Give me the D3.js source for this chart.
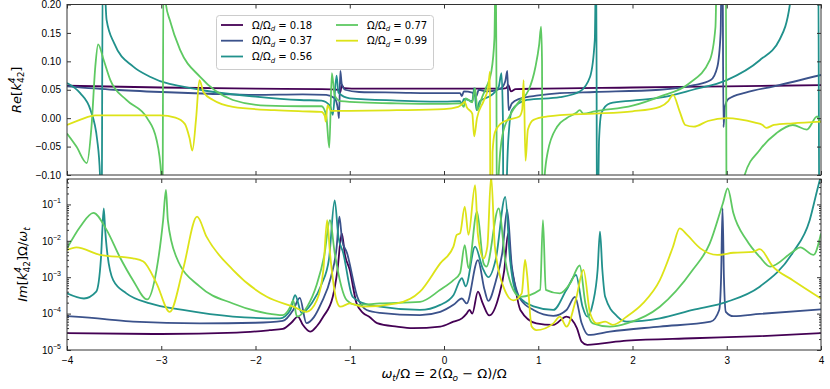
<!DOCTYPE html>
<html>
<head>
<meta charset="utf-8">
<script src="https://cdn.jsdelivr.net/npm/d3@7"></script>
<style>
  body { margin: 0; background: #fff; }
  svg { font-family: "DejaVu Sans", sans-serif; }
  .tick text { font-size: 10px; fill: #000; }
</style>
</head>
<body>
<div id="chart"></div>
<script>
/* CONSTANTS */
const width = 830,
  height = 389,
  margin = { left: 67, right: 9 },
  topPanel = { top: 4.5, bottom: 175 },
  botPanel = { top: 179, bottom: 350 };

const xTicks = [-4, -3, -2, -1, 0, 1, 2, 3, 4];
const reTicks = [-0.1, -0.05, 0, 0.05, 0.1, 0.15, 0.2];
const imTicks = [1e-5, 1e-4, 1e-3, 1e-2, 1e-1];
const ratios = [0.18, 0.37, 0.56, 0.77, 0.99];
const colors = ["#440154", "#3b528b", "#21918c", "#5ec962", "#dde318"];

// real part, [omega_t/Omega, Re k]
const re018 = [[-4, 0.057], [-3, 0.054], [-2, 0.052], [-1.3, 0.051], [-1.12, 0.050], [-1.1, 0.046],
  [-1.085, 0.058], [-1.06, 0.053], [-0.9, 0.052], [0, 0.052], [0.6, 0.052], [0.66, 0.053],
  [0.683, 0.058], [0.71, 0.047], [0.76, 0.051], [1, 0.052], [2, 0.054], [3, 0.056], [4, 0.058]];
const re037 = [[-4, 0.056], [-3.5, 0.050], [-3, 0.046], [-2.5, 0.043], [-2, 0.041], [-1.5, 0.042],
  [-1.25, 0.041], [-1.16, 0.035], [-1.125, 0.015], [-1.114, 0.0], [-1.1, 0.083], [-1.085, 0.06],
  [-1.05, 0.05], [-0.9, 0.046], [-0.5, 0.045], [0, 0.044], [0.17, 0.044], [0.19, 0.039], [0.21, 0.047],
  [0.3, 0.045], [0.34, 0.038], [0.37, 0.05], [0.45, 0.047], [0.6, 0.052], [0.65, 0.065], [0.672, 0.083],
  [0.685, 0.014], [0.72, 0.026], [0.8, 0.034], [1, 0.04], [1.23, 0.044], [1.6, 0.046], [2.29, 0.05],
  [2.65, 0.058], [2.83, 0.067], [2.9, 0.09], [2.935, 0.15], [2.948, 0.3], [2.955, 0.3], [2.965, -0.016],
  [2.98, 0.02], [3.02, 0.034], [3.2, 0.045], [3.5, 0.056], [4, 0.076]];
const re056 = [[-4, 0.062], [-3.86, 0.044], [-3.75, 0.014], [-3.68, -0.038], [-3.65, -0.1], [-3.635, -0.3],
  [-3.62, 0.3], [-3.58, 0.173], [-3.5, 0.132], [-3.3, 0.091], [-3.12, 0.073], [-2.59, 0.05], [-2, 0.038],
  [-1.53, 0.032], [-1.3, 0.031], [-1.21, 0.022], [-1.18, 0.006], [-1.14, 0.075], [-1.12, 0.045],
  [-1, 0.035], [-0.5, 0.031], [0, 0.029], [0.17, 0.03], [0.19, 0.024], [0.21, 0.034], [0.3, 0.03],
  [0.32, 0.053], [0.345, 0.014], [0.38, 0.03], [0.5, 0.04], [0.58, 0.055], [0.61, 0.079], [0.625, 0.0],
  [0.632, -0.3], [0.66, -0.3], [0.668, -0.1], [0.69, -0.02], [0.72, 0.014], [0.88, 0.032], [1.23, 0.037],
  [1.44, 0.047], [1.55, 0.073], [1.6, 0.138], [1.615, 0.3], [1.625, -0.3], [1.645, -0.039], [1.67, 0.009],
  [1.76, 0.026], [2, 0.031], [2.29, 0.036], [2.64, 0.05], [3, 0.067], [3.35, 0.102], [3.56, 0.138],
  [3.67, 0.2], [3.72, 0.3], [3.97, 0.3], [3.985, -0.3], [4, -0.3]];
const re077 = [[-4, -0.027], [-3.9, -0.05], [-3.79, -0.079], [-3.74, -0.015], [-3.7, 0.09], [-3.67, 0.13],
  [-3.61, 0.102], [-3.54, 0.067], [-3.37, 0.032], [-3.15, 0.0], [-3.05, -0.038], [-3, -0.1], [-2.99, -0.3],
  [-2.975, 0.3], [-2.95, 0.2], [-2.91, 0.173], [-2.8, 0.12], [-2.59, 0.073], [-2.24, 0.032], [-1.88, 0.022],
  [-1.5, 0.021], [-1.3, 0.021], [-1.25, 0.005], [-1.217, -0.052], [-1.19, 0.079], [-1.16, 0.04],
  [-1.1, 0.03], [-0.5, 0.026], [0, 0.025], [0.18, 0.026], [0.21, 0.02], [0.23, 0.035], [0.3, 0.028],
  [0.33, 0.053], [0.355, 0.014], [0.4, 0.035], [0.45, 0.055], [0.5, 0.08], [0.535, 0.14], [0.55, 0.3],
  [0.565, -0.3], [0.58, -0.1], [0.62, -0.03], [0.7, 0.005], [0.8, 0.03], [0.9, 0.05], [0.97, 0.09],
  [1.01, 0.13], [1.03, 0.161], [1.04, 0.1], [1.045, -0.3], [1.06, -0.12], [1.1, -0.06], [1.2, -0.015],
  [1.3, 0.0], [1.4, 0.009], [1.44, 0.014], [1.48, 0.008], [1.6, 0.012], [2, 0.022], [2.29, 0.038],
  [2.6, 0.061], [2.82, 0.102], [2.88, 0.16], [2.9, 0.3], [2.99, 0.3], [3, -0.3], [3.17, -0.3],
  [3.19, -0.1], [3.35, -0.056], [3.53, -0.026], [3.7, -0.012], [3.85, -0.02], [3.96, 0.003],
  [3.99, -0.006], [4, -0.006]];
const re099 = [[-4, -0.012], [-3.85, -0.002], [-3.7, 0.005], [-3.01, 0.005], [-2.85, 0.001], [-2.75, -0.01],
  [-2.7, -0.035], [-2.67, -0.057], [-2.63, 0.0], [-2.595, 0.067], [-2.55, 0.045], [-2.45, 0.032],
  [-2.24, 0.02], [-1.8, 0.014], [-1.5, 0.012], [-1.3, 0.011], [-1.265, 0.004], [-1.255, -0.006],
  [-1.235, 0.023], [-1.2, 0.013], [-1, 0.013], [-0.5, 0.014], [0, 0.016], [0.15, 0.02], [0.2, 0.026],
  [0.22, 0.029], [0.24, 0.02], [0.3, 0.008], [0.32, -0.032], [0.35, 0.0], [0.42, 0.03], [0.47, 0.055],
  [0.488, 0.082], [0.493, -0.3], [0.505, -0.3], [0.515, -0.06], [0.54, -0.025], [0.6, -0.01],
  [0.7, -0.002], [0.8, 0.003], [0.83, 0.015], [0.845, 0.067], [0.865, -0.075], [0.89, -0.02],
  [0.95, -0.003], [1.1, 0.003], [1.23, 0.0055], [1.6, 0.008], [2, 0.012], [2.29, 0.02], [2.38, 0.03],
  [2.43, 0.041], [2.5, 0.012], [2.56, -0.012], [2.65, -0.015], [2.8, -0.005], [3, 0.0], [3.3, -0.008],
  [3.38, -0.012], [3.42, -0.017], [3.5, -0.012], [3.7, -0.009], [4, -0.006]];

// imaginary part, [omega_t/Omega, Im k * Omega/omega_t]
const im018 = [[-4, 2.9e-5], [-3, 2.75e-5], [-2.2, 3.0e-5], [-1.85, 3.5e-5], [-1.71, 3.8e-5], [-1.62, 5.6e-5],
  [-1.55, 8.3e-5], [-1.5, 5.0e-5], [-1.42, 3.2e-5], [-1.35, 4.5e-5], [-1.28, 8.3e-5], [-1.18, 2.9e-4],
  [-1.13, 1.6e-3], [-1.085, 1.6e-2], [-1.05, 4e-3], [-1, 1.6e-3], [-0.93, 2e-4], [-0.86, 1.05e-4],
  [-0.79, 8.1e-5], [-0.71, 5.5e-5], [-0.5, 4.4e-5], [-0.33, 4e-5], [-0.04, 4.4e-5], [0.1, 6e-5],
  [0.19, 7.4e-5], [0.24, 1e-4], [0.27, 1.26e-4], [0.3, 1e-4], [0.36, 4e-4], [0.41, 1.95e-4],
  [0.48, 8.9e-5], [0.58, 2.9e-4], [0.64, 1.6e-3], [0.68, 1.6e-2], [0.71, 2.5e-3], [0.75, 6.3e-4],
  [0.81, 1.26e-4], [0.98, 5.4e-5], [1.16, 4.9e-5], [1.3, 8.3e-5], [1.41, 4e-5], [1.46, 1.7e-5],
  [1.52, 1.38e-5], [1.66, 1.5e-5], [1.94, 1.8e-5], [2.64, 2.1e-5], [3.35, 2.4e-5], [4, 2.9e-5]];
const im037 = [[-4, 8.5e-5], [-3.6, 7.1e-5], [-3.3, 6e-5], [-2.59, 5.4e-5], [-2, 5.6e-5], [-1.71, 6.3e-5],
  [-1.6, 1.26e-4], [-1.53, 2.7e-4], [-1.46, 5.5e-5], [-1.38, 8e-5], [-1.3, 2e-4], [-1.2, 1e-3],
  [-1.14, 6.3e-3], [-1.11, 4.6e-2], [-1.08, 1e-2], [-1.03, 4.7e-3], [-0.92, 2.9e-4], [-0.82, 1.26e-4],
  [-0.68, 1.05e-4], [-0.255, 9.1e-5], [-0.04, 1.12e-4], [0.1, 1.74e-4], [0.19, 2.6e-4], [0.24, 1.9e-4],
  [0.36, 2.95e-3], [0.43, 4.5e-4], [0.47, 2.24e-4], [0.55, 7.9e-4], [0.62, 5e-3], [0.67, 7.1e-2],
  [0.72, 1.95e-3], [0.81, 2.5e-4], [0.95, 1.26e-4], [1.16, 8.7e-5], [1.3, 1.26e-4], [1.39, 2.9e-4],
  [1.46, 5.5e-5], [1.53, 2.6e-5], [1.76, 3.2e-5], [2.29, 4.4e-5], [2.83, 6e-5], [2.92, 1.26e-4],
  [2.94, 1e-3], [2.955, 7.9e-2], [2.97, 1e-3], [2.99, 1.12e-4], [3.07, 8.5e-5], [3.35, 9.8e-5], [4, 1.3e-4]];
const im056 = [[-4, 3.6e-4], [-3.82, 2.6e-4], [-3.69, 4e-4], [-3.64, 3.2e-3], [-3.625, 2e-2], [-3.61, 7.8e-2],
  [-3.595, 2e-2], [-3.58, 6.9e-3], [-3.51, 8.3e-4], [-3.37, 3.6e-4], [-3.12, 1.9e-4], [-2.77, 1.26e-4],
  [-2.24, 8.3e-5], [-1.74, 7.4e-5], [-1.63, 1.26e-4], [-1.58, 3.2e-4], [-1.51, 1.05e-4], [-1.4, 2e-4],
  [-1.3, 6.3e-4], [-1.22, 3.2e-3], [-1.16, 1.3e-1], [-1.12, 1.26e-2], [-1.07, 4.7e-3], [-0.97, 2.9e-4],
  [-0.86, 1.95e-4], [-0.68, 1.55e-4], [-0.255, 1.26e-4], [-0.04, 1.74e-4], [0.1, 3.2e-4], [0.17, 8.3e-4],
  [0.19, 9.5e-4], [0.23, 5.6e-4], [0.33, 6.9e-3], [0.41, 1.78e-3], [0.47, 1e-3], [0.55, 3.2e-3],
  [0.65, 1.6e-1], [0.7, 3.2e-3], [0.77, 3.6e-4], [0.95, 1.58e-4], [1.16, 1.26e-4], [1.3, 4.5e-4],
  [1.4, 1.15e-3], [1.47, 1.55e-4], [1.52, 8.3e-5], [1.58, 1.95e-4], [1.63, 1.6e-3], [1.655, 1.8e-2],
  [1.68, 1.6e-3], [1.71, 2.9e-4], [1.84, 8.3e-5], [1.94, 6e-5], [2.29, 7.4e-5], [2.64, 1.26e-4],
  [3, 2.1e-4], [3.35, 5.5e-4], [3.7, 4.7e-3], [3.88, 3.7e-2], [3.96, 2.5e-1], [4, 6.3e-1]];
const im077 = [[-4, 6.2e-3], [-3.86, 2.45e-2], [-3.72, 5.9e-2], [-3.58, 2e-2], [-3.44, 3.6e-3], [-3.3, 8.3e-4],
  [-3.15, 2.45e-4], [-3.05, 1.6e-3], [-2.98, 3.7e-2], [-2.95, 2.5e-1], [-2.93, 3.7e-2], [-2.84, 3.6e-3],
  [-2.59, 5.5e-4], [-2.24, 1.9e-4], [-1.88, 1.02e-4], [-1.71, 9.1e-5], [-1.63, 1.55e-4], [-1.6, 2.3e-4],
  [-1.56, 8.3e-5], [-1.45, 1.58e-4], [-1.35, 6.3e-4], [-1.27, 4e-3], [-1.21, 3.7e-2], [-1.16, 4.7e-3],
  [-1.03, 2.3e-4], [-0.93, 1.74e-4], [-0.68, 1.9e-4], [-0.255, 2.1e-4], [-0.04, 4.5e-4], [0.1, 8.3e-4],
  [0.17, 1.3e-3], [0.22, 7.6e-3], [0.26, 1.78e-3], [0.35, 6.3e-2], [0.42, 2.4e-3], [0.45, 1.95e-3],
  [0.58, 7.8e-2], [0.65, 2.95e-3], [0.735, 4.5e-4], [0.81, 2.9e-4], [1.02, 4.5e-4], [1.05, 3.7e-2],
  [1.08, 4.5e-4], [1.23, 3.6e-4], [1.34, 6.8e-4], [1.44, 2.1e-3], [1.5, 1.9e-4], [1.58, 5.4e-5],
  [1.76, 4.4e-5], [1.94, 5.4e-5], [2.29, 1.55e-4], [2.64, 1.6e-3], [2.82, 8.5e-3], [2.96, 1.1e-1],
  [3.01, 2.75e-1], [3.07, 5.8e-2], [3.21, 1.05e-2], [3.35, 3.6e-3], [3.46, 1.95e-3], [3.7, 5e-3],
  [3.78, 6.6e-3], [3.92, 4.1e-3], [4, 1.6e-2]];
const im099 = [[-4, 5.6e-3], [-3.9, 6.6e-3], [-3.65, 4.1e-3], [-3.3, 3.3e-3], [-3.19, 2.7e-3], [-3.05, 6.8e-4],
  [-2.91, 1.12e-4], [-2.77, 1.6e-3], [-2.62, 4.6e-2], [-2.52, 1.3e-2], [-2.24, 1.6e-3], [-1.88, 2.9e-4],
  [-1.6, 1.55e-4], [-1.46, 1.12e-4], [-1.35, 2.3e-4], [-1.28, 1.6e-3], [-1.24, 3.7e-2], [-1.21, 4.7e-3],
  [-1.14, 2.3e-4], [-1.1, 1.55e-4], [-1, 1.9e-4], [-0.86, 1.55e-4], [-0.5, 1.9e-4], [-0.255, 4e-4],
  [-0.04, 2.4e-3], [0.1, 6.9e-3], [0.135, 1.45e-2], [0.17, 1.6e-2], [0.22, 8.7e-2], [0.26, 1.45e-2],
  [0.33, 3.4e-1], [0.36, 1.45e-2], [0.42, 3.3e-3], [0.46, 6.9e-3], [0.5, 0.6], [0.54, 6.9e-3],
  [0.63, 5.5e-4], [0.735, 2.3e-4], [0.825, 3.6e-4], [0.86, 3e-3], [0.88, 1.3e-3], [0.93, 4.4e-5],
  [0.98, 3.5e-5], [1.16, 5.4e-5], [1.23, 8.3e-5], [1.3, 4.4e-5], [1.4, 2.5e-4], [1.48, 1.6e-3],
  [1.55, 1.02e-4], [1.62, 5.4e-5], [1.71, 6e-5], [1.79, 4.9e-5], [1.94, 8.3e-5], [2.11, 1.9e-4],
  [2.29, 8.3e-4], [2.43, 6.9e-3], [2.5, 2.2e-2], [2.58, 1.45e-2], [2.72, 6.2e-3], [2.9, 4.1e-3],
  [3.07, 4.7e-3], [3.28, 5e-3], [3.35, 5.9e-3], [3.49, 1.95e-3], [3.7, 8.3e-4], [4, 2.6e-4]];

const reSeries = [re018, re037, re056, re077, re099];
const imSeries = [im018, im037, im056, im077, im099];

/* SCALES */
const xScale = d3.scaleLinear().domain([-4, 4]).range([margin.left, width - margin.right]);
const yRe = d3.scaleLinear().domain([-0.1, 0.2]).range([topPanel.bottom, topPanel.top]);
const yIm = d3.scaleLog().domain([1e-5, 0.5]).range([botPanel.bottom, botPanel.top]);

const svg = d3.select("#chart").append("svg")
  .attr("width", width)
  .attr("height", height);

const defs = svg.append("defs");
[["clipRe", topPanel], ["clipIm", botPanel]].forEach(([id, p]) => {
  defs.append("clipPath").attr("id", id)
    .append("rect")
    .attr("x", margin.left).attr("y", p.top)
    .attr("width", width - margin.right - margin.left)
    .attr("height", p.bottom - p.top);
});

/* LINES */
function drawLines(series, yScale, clip) {
  const lineFunc = d3.line()
    .x(d => xScale(d[0]))
    .y(d => yScale(d[1]))
    .curve(d3.curveMonotoneX);
  svg.append("g")
    .attr("clip-path", `url(#${clip})`)
    .selectAll("path")
    .data(series)
    .join("path")
    .attr("fill", "none")
    .attr("stroke", (d, i) => colors[i])
    .attr("stroke-width", 1.8)
    .attr("stroke-linejoin", "round")
    .attr("d", d => lineFunc(d));
}
drawLines(reSeries, yRe, "clipRe");
drawLines(imSeries, yIm, "clipIm");

/* AXES */
const tickLen = 4;
function styleAxis(g) {
  g.select(".domain").remove();
  g.selectAll(".tick line").attr("stroke", "#333");
}

// top panel
svg.append("g").attr("transform", `translate(${margin.left},0)`)
  .call(d3.axisLeft(yRe).tickValues(reTicks).tickSize(-tickLen).tickPadding(6).tickFormat(d3.format(".2f")))
  .call(styleAxis);
svg.append("g").attr("transform", `translate(${width - margin.right},0)`)
  .call(d3.axisRight(yRe).tickValues(reTicks).tickSize(-tickLen).tickFormat(""))
  .call(styleAxis);
svg.append("g").attr("transform", `translate(0,${topPanel.bottom})`)
  .call(d3.axisBottom(xScale).tickValues(xTicks).tickSize(-tickLen).tickFormat(""))
  .call(styleAxis);
svg.append("g").attr("transform", `translate(0,${topPanel.top})`)
  .call(d3.axisTop(xScale).tickValues(xTicks).tickSize(-tickLen).tickFormat(""))
  .call(styleAxis);

// bottom panel
const minorTicks = [];
for (let e = -5; e < 0; e++) {
  for (let m = 2; m <= 9; m++) {
    const v = m * Math.pow(10, e);
    if (v <= 0.5) minorTicks.push(v);
  }
}
const yImLeft = svg.append("g").attr("transform", `translate(${margin.left},0)`)
  .call(d3.axisLeft(yIm).tickValues(imTicks).tickSize(-tickLen).tickPadding(6).tickFormat(""))
  .call(styleAxis);
yImLeft.selectAll(".tick text").each(function(d) {
  const t = d3.select(this);
  t.append("tspan").text("10");
  t.append("tspan").attr("dy", -5).attr("font-size", "7px").text("\u2212" + Math.round(-Math.log10(d)));
});
svg.append("g").attr("transform", `translate(${width - margin.right},0)`)
  .call(d3.axisRight(yIm).tickValues(imTicks).tickSize(-tickLen).tickFormat(""))
  .call(styleAxis);
svg.append("g").attr("transform", `translate(${margin.left},0)`)
  .call(d3.axisLeft(yIm).tickValues(minorTicks).tickSize(-2).tickFormat(""))
  .call(styleAxis);
svg.append("g").attr("transform", `translate(${width - margin.right},0)`)
  .call(d3.axisRight(yIm).tickValues(minorTicks).tickSize(-2).tickFormat(""))
  .call(styleAxis);
svg.append("g").attr("transform", `translate(0,${botPanel.bottom})`)
  .call(d3.axisBottom(xScale).tickValues(xTicks).tickSize(-tickLen).tickPadding(7).tickFormat(d3.format("d")))
  .call(styleAxis);
svg.append("g").attr("transform", `translate(0,${botPanel.top})`)
  .call(d3.axisTop(xScale).tickValues(xTicks).tickSize(-tickLen).tickFormat(""))
  .call(styleAxis);

// frames
[topPanel, botPanel].forEach(p => {
  svg.append("rect")
    .attr("x", margin.left).attr("y", p.top)
    .attr("width", width - margin.right - margin.left)
    .attr("height", p.bottom - p.top)
    .attr("fill", "none")
    .attr("stroke", "#333")
    .attr("stroke-width", 1);
});

/* LABELS */
const reLabel = svg.append("text")
  .attr("transform", `translate(21,${(topPanel.top + topPanel.bottom) / 2}) rotate(-90)`)
  .attr("text-anchor", "middle")
  .attr("font-size", "13px");
reLabel.append("tspan").attr("font-style", "italic").text("Re");
reLabel.append("tspan").text("[");
reLabel.append("tspan").attr("font-style", "italic").text("k");
reLabel.append("tspan").attr("font-size", "9px").attr("font-style", "italic").attr("dy", -6).text("4");
reLabel.append("tspan").attr("font-size", "9px").attr("dx", -5.5).attr("dy", 9).text("42");
reLabel.append("tspan").attr("dy", -3).text("]");

const imLabel = svg.append("text")
  .attr("transform", `translate(27,${(botPanel.top + botPanel.bottom) / 2}) rotate(-90)`)
  .attr("text-anchor", "middle")
  .attr("font-size", "13px");
imLabel.append("tspan").attr("font-style", "italic").text("Im");
imLabel.append("tspan").text("[");
imLabel.append("tspan").attr("font-style", "italic").text("k");
imLabel.append("tspan").attr("font-size", "9px").attr("font-style", "italic").attr("dy", -6).text("4");
imLabel.append("tspan").attr("font-size", "9px").attr("dx", -5.5).attr("dy", 9).text("42");
imLabel.append("tspan").attr("dy", -3).text("]Ω/");
imLabel.append("tspan").attr("font-style", "italic").text("ω");
imLabel.append("tspan").attr("font-size", "9px").attr("font-style", "italic").attr("dy", 3).text("t");

const xLabel = svg.append("text")
  .attr("x", (xScale(-4) + xScale(4)) / 2)
  .attr("y", 378)
  .attr("text-anchor", "middle")
  .attr("font-size", "13px");
xLabel.append("tspan").attr("font-style", "italic").text("ω");
xLabel.append("tspan").attr("font-size", "9px").attr("font-style", "italic").attr("dy", 3).text("t");
xLabel.append("tspan").attr("dy", -3).text("/Ω = 2(Ω");
xLabel.append("tspan").attr("font-size", "9px").attr("font-style", "italic").attr("dy", 3).text("o");
xLabel.append("tspan").attr("dy", -3).text(" \u2212 Ω)/Ω");

/* LEGEND */
const legend = svg.append("g");
legend.append("rect")
  .attr("x", 216.5).attr("y", 15.5)
  .attr("width", 217).attr("height", 54)
  .attr("rx", 3)
  .attr("fill", "#fff").attr("fill-opacity", 0.8)
  .attr("stroke", "#ccc");
const legendPos = [[221, 25], [221, 40.7], [221, 56.5], [336, 25], [336, 40.7]];
ratios.forEach((r, i) => {
  const [lx, ly] = legendPos[i];
  legend.append("line")
    .attr("x1", lx).attr("x2", lx + 22)
    .attr("y1", ly).attr("y2", ly)
    .attr("stroke", colors[i]).attr("stroke-width", 1.8);
  const t = legend.append("text")
    .attr("x", lx + 31).attr("y", ly + 3.5)
    .attr("font-size", "10px");
  t.append("tspan").text("Ω/Ω");
  t.append("tspan").attr("font-size", "7px").attr("font-style", "italic").attr("dy", 2.5).text("d");
  t.append("tspan").attr("dy", -2.5).text(" = " + r.toFixed(2));
});
</script>
</body>
</html>
